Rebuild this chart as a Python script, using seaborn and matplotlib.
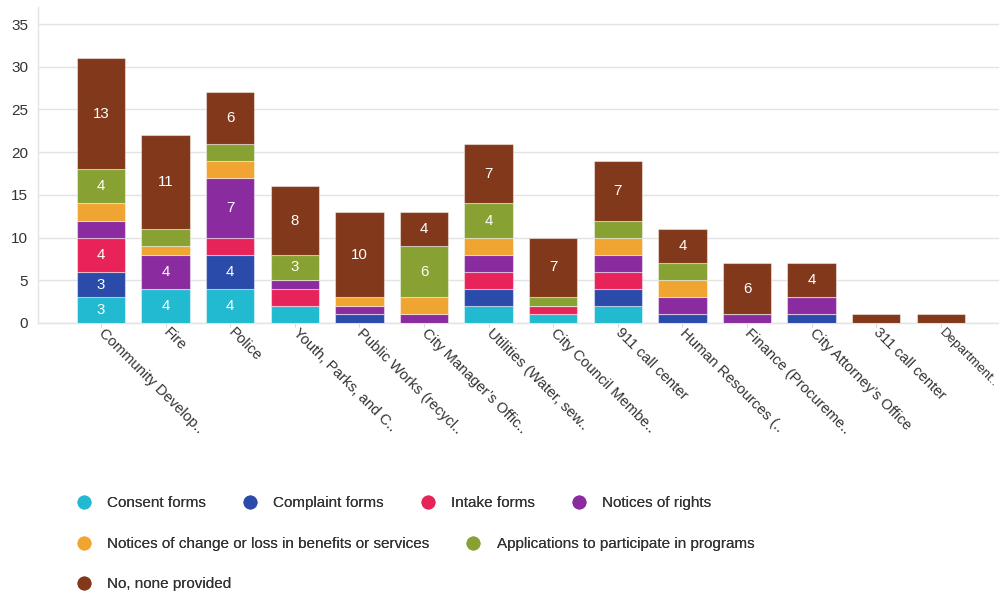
import matplotlib
matplotlib.use("Agg")
import matplotlib.pyplot as plt
from matplotlib.lines import Line2D
import numpy as np
import pandas as pd
import seaborn as sns

departments = [
    "Community Develop..", "Fire", "Police", "Youth, Parks, and C..",
    "Public Works (recycl..", "City Manager\u2019s Offic..", "Utilities (Water, sew..",
    "City Council Membe..", "911 call center", "Human Resources (..",
    "Finance (Procureme..", "City Attorney\u2019s Office", "311 call center",
    "Department..",
]

series_names = [
    "Consent forms", "Complaint forms", "Intake forms", "Notices of rights",
    "Notices of change or loss in benefits or services",
    "Applications to participate in programs", "No, none provided",
]

consent_forms      = [3, 4, 4, 2, 0, 0, 2, 1, 2, 0, 0, 0, 0, 0]
complaint_forms    = [3, 0, 4, 0, 1, 0, 2, 0, 2, 1, 0, 1, 0, 0]
intake_forms       = [4, 0, 2, 2, 0, 0, 2, 1, 2, 0, 0, 0, 0, 0]
notices_of_rights  = [2, 4, 7, 1, 1, 1, 2, 0, 2, 2, 1, 2, 0, 0]
notices_of_change  = [2, 1, 2, 0, 1, 2, 2, 0, 2, 2, 0, 0, 0, 0]
applications       = [4, 2, 2, 3, 0, 6, 4, 1, 2, 2, 0, 0, 0, 0]
none_provided      = [13, 11, 6, 8, 10, 4, 7, 7, 7, 4, 6, 4, 1, 1]

series_values = [consent_forms, complaint_forms, intake_forms, notices_of_rights,
                 notices_of_change, applications, none_provided]

colors = ["#22BAD0", "#2A4BAA", "#E8235A", "#8A2CA0", "#F0A431", "#87A132", "#82381B"]

sns.set_theme(style="white")
plt.rcParams["font.family"] = ["Liberation Sans", "DejaVu Sans"]

fig = plt.figure(figsize=(9.99, 5.94), dpi=100)
ax = fig.add_axes([38 / 999, 271 / 594, 961 / 999, 316 / 594])

bottom = np.zeros(len(departments))
for name, vals, col in zip(series_names, series_values, colors):
    df = pd.DataFrame({"department": departments, "count": vals})
    sns.barplot(data=df, x="department", y="count", order=departments,
                color=col, saturation=1, width=0.75, bottom=bottom.copy(),
                edgecolor=(1, 1, 1, 0.45), linewidth=0.8, errorbar=None,
                ax=ax, zorder=3)
    labels = [str(v) if v >= 3 else "" for v in vals]
    ax.bar_label(ax.containers[-1], labels=labels, label_type="center",
                 color="white", fontsize=10.8)
    bottom += np.array(vals)

ax.set_xlim(-0.975, 13.9)
ax.set_ylim(0, 37)
ax.set_yticks(range(0, 36, 5))
ax.yaxis.grid(True, color="#e3e3e3", linewidth=1, zorder=0)
ax.set_axisbelow(True)
ax.set_xlabel("")
ax.set_ylabel("")

for side in ["top", "right"]:
    ax.spines[side].set_visible(False)
for side in ["left", "bottom"]:
    ax.spines[side].set_color("#e3e3e3")
    ax.spines[side].set_linewidth(1)

ax.tick_params(axis="y", length=0, pad=7, labelsize=11, labelcolor="#333333")
ax.tick_params(axis="x", length=3, width=0.8, color="#d8d8d8", pad=2.5,
               labelsize=10.6, labelcolor="#333333", bottom=True)
for lab in ax.get_xticklabels():
    lab.set_rotation(-45)
    lab.set_ha("left")
    lab.set_va("center")
    lab.set_rotation_mode("anchor")
# the rightmost label sits against the figure edge; keep it inside
ax.get_xticklabels()[-1].set_fontsize(9.6)

handles = [Line2D([0], [0], marker="o", linestyle="none", markersize=9,
                  markerfacecolor=c, markeredgecolor=c) for c in colors]

rows = [(0, 4, 503), (4, 6, 544), (6, 7, 584)]
for start, stop, ypix in rows:
    leg = fig.legend(handles[start:stop], series_names[start:stop],
                     loc="center left", bbox_to_anchor=(76 / 999, 1 - ypix / 594),
                     ncol=stop - start, frameon=False, fontsize=11,
                     handlelength=1.0, handletextpad=1.05, columnspacing=2.35,
                     borderpad=0, borderaxespad=0, labelcolor="#333333")
    fig.add_artist(leg)

fig.savefig("out.png", dpi=100)
